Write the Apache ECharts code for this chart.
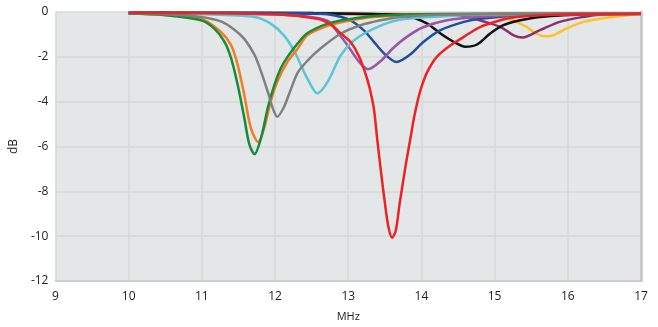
<!DOCTYPE html>
<html><head><meta charset="utf-8">
<script src="https://cdn.jsdelivr.net/npm/echarts@6/dist/echarts.min.js"></script>
<style>html,body{margin:0;padding:0;background:#fff}#c{width:658px;height:327px}</style>
</head><body><div id="c"></div>
<script>
const xTicks = [9,10,11,12,13,14,15,16,17];
const yTicks = [0,-2,-4,-6,-8,-10,-12];

const yellowF = [10,14.5,14.98,15.21,15.35,15.44,15.53,15.67,15.8,15.98,16.21,16.44,16.67,16.89,17];
const yellowDb = [-0.03,-0.1,-0.2,-0.32,-0.52,-0.67,-0.89,-1.08,-1.04,-0.74,-0.44,-0.3,-0.2,-0.12,-0.1];

const plumF = [10,14.4,14.62,14.8,15.08,15.26,15.38,15.62,15.89,16.17,16.44,17];
const plumDb = [-0.04,-0.12,-0.2,-0.37,-0.67,-1.04,-1.14,-0.81,-0.44,-0.24,-0.12,-0.08];

const blackF = [10,12.5,13.5,13.85,14.08,14.26,14.44,14.6,14.76,14.94,15.12,15.35,15.62,16.3,17];
const blackDb = [-0.03,-0.05,-0.1,-0.22,-0.52,-0.96,-1.33,-1.55,-1.45,-0.96,-0.59,-0.37,-0.22,-0.1,-0.08];

const blueF = [10,12.4,12.76,13.03,13.21,13.35,13.49,13.66,13.85,14.03,14.26,14.58,14.8,15.5,17];
const blueDb = [-0.04,-0.06,-0.12,-0.37,-0.81,-1.33,-1.85,-2.23,-1.89,-1.33,-0.81,-0.44,-0.3,-0.12,-0.08];

const purpleF = [10,11.86,12.44,12.72,12.85,12.99,13.13,13.27,13.44,13.6,13.8,14.03,14.35,14.76,15.5,17];
const purpleDb = [-0.05,-0.1,-0.2,-0.4,-0.89,-1.48,-2.15,-2.55,-2.2,-1.65,-1.11,-0.67,-0.37,-0.22,-0.12,-0.1];

const cyanF = [10,11.02,11.72,11.94,12.12,12.26,12.35,12.44,12.58,12.72,12.9,13.08,13.35,13.67,14.12,15,16,17];
const cyanDb = [-0.05,-0.1,-0.22,-0.52,-1.04,-1.72,-2.35,-2.96,-3.63,-3.11,-1.92,-1.26,-0.74,-0.37,-0.22,-0.1,-0.08,-0.08];

const orangeF = [10.15,10.6,10.99,11.26,11.4,11.49,11.58,11.67,11.77,11.85,11.94,12.03,12.17,12.31,12.44,12.72,12.99,13.35,14,15,16,17];
const orangeDb = [-0.08,-0.15,-0.3,-0.89,-1.48,-2.37,-3.7,-5.18,-5.8,-5.2,-4.0,-3.11,-2.22,-1.63,-1.04,-0.62,-0.4,-0.22,-0.12,-0.1,-0.09,-0.09];

const greenF = [10,10.5,10.99,11.17,11.31,11.4,11.49,11.58,11.65,11.72,11.81,11.9,11.99,12.08,12.17,12.31,12.44,12.72,12.99,13.35,14,15,16,17];
const greenDb = [-0.07,-0.14,-0.37,-0.74,-1.33,-2.07,-3.26,-4.73,-5.92,-6.34,-5.6,-4.28,-3.26,-2.5,-2.0,-1.4,-0.95,-0.52,-0.33,-0.18,-0.1,-0.08,-0.07,-0.07];

const greyF = [10,10.5,10.99,11.26,11.44,11.58,11.72,11.81,11.9,11.97,12.03,12.12,12.21,12.31,12.45,12.62,12.9,13.17,13.44,13.71,14.2,15,16,17];
const greyDb = [-0.05,-0.1,-0.22,-0.42,-0.78,-1.2,-1.92,-2.67,-3.55,-4.3,-4.67,-4.25,-3.5,-2.7,-2.15,-1.63,-0.96,-0.59,-0.37,-0.22,-0.12,-0.08,-0.06,-0.06];

const redF = [10,12.0,12.58,12.76,12.9,13.03,13.15,13.25,13.3,13.35,13.4,13.45,13.5,13.55,13.6,13.65,13.7,13.75,13.8,13.85,13.9,13.95,14.0,14.08,14.21,14.4,14.58,14.8,15.08,15.3,16,17];
const redDb = [-0.03,-0.1,-0.3,-0.55,-0.96,-1.33,-2.0,-2.9,-3.5,-4.3,-5.8,-7.2,-8.5,-9.6,-10.07,-9.75,-8.6,-7.55,-6.55,-5.63,-4.7,-3.95,-3.35,-2.67,-2.0,-1.48,-1.11,-0.67,-0.37,-0.22,-0.1,-0.08];

const seriesDefs = [
  ['Yellow', yellowF, yellowDb, '#fdc22a'],
  ['Plum', plumF, plumDb, '#8c2f6b'],
  ['Black', blackF, blackDb, '#111111'],
  ['Blue', blueF, blueDb, '#1f4e9f'],
  ['Purple', purpleF, purpleDb, '#9a55a8'],
  ['Cyan', cyanF, cyanDb, '#5bc5d6'],
  ['Orange', orangeF, orangeDb, '#f47b20'],
  ['Green', greenF, greenDb, '#168b3c'],
  ['Grey', greyF, greyDb, '#7f7f7f'],
  ['Red', redF, redDb, '#ed2224']
];

const font = '"Open Sans", "Noto Sans", sans-serif';
const chart = echarts.init(document.getElementById('c'), null, {renderer: 'canvas'});
chart.setOption({
  animation: false,
  backgroundColor: '#ffffff',
  grid: {left: 54, right: 17, top: 12, bottom: 45, show: true, backgroundColor: '#e4e7e8', borderWidth: 0},
  xAxis: {
    type: 'value', min: xTicks[0], max: xTicks[xTicks.length-1], interval: 1,
    name: 'MHz', nameLocation: 'middle', nameGap: 30,
    nameTextStyle: {fontFamily: font, fontSize: 11, color: '#222'},
    axisLine: {show: true, onZero: false, lineStyle: {color: '#c8c8c8', width: 1.5}},
    axisTick: {show: false},
    axisLabel: {fontFamily: font, fontSize: 12, color: '#222', margin: 10},
    splitLine: {show: true, lineStyle: {color: '#d8d9d6', width: 1.5}}
  },
  yAxis: [{
    type: 'value', min: yTicks[yTicks.length-1], max: yTicks[0], interval: 2,
    name: 'dB', nameLocation: 'middle', nameGap: 34,
    nameTextStyle: {fontFamily: font, fontSize: 12, color: '#222'},
    axisLine: {show: false}, axisTick: {show: false},
    axisLabel: {fontFamily: font, fontSize: 12, color: '#222', margin: 7},
    splitLine: {show: true, lineStyle: {color: '#d8d9d6', width: 1.5}}
  },{
    type: 'value', min: -12, max: 0, position: 'right',
    axisLine: {show: true, lineStyle: {color: '#c4c4c4', width: 2.5}},
    axisTick: {show: false}, axisLabel: {show: false}, splitLine: {show: false}
  }],
  series: seriesDefs.map(([name, f, db, color]) => ({
    name, type: 'line', yAxisIndex: 0,
    data: f.map((x, i) => [x, db[i]]),
    showSymbol: false, smooth: 0.3,
    lineStyle: {color, width: 2.5},
    itemStyle: {color}
  }))
});
</script>
</body></html>
